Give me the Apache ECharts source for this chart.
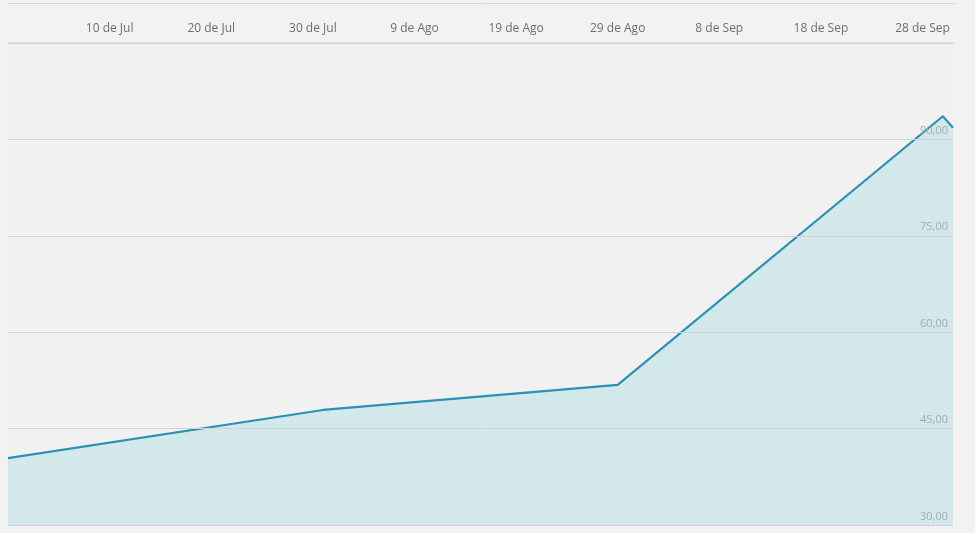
<!DOCTYPE html>
<html><head><meta charset="utf-8">
<script src="https://cdn.jsdelivr.net/npm/echarts@6/dist/echarts.min.js"></script>
<style>html,body{margin:0;padding:0;background:#f2f2f2}#c{width:975px;height:533px}</style>
</head><body><div id="c"></div>
<script>
var startDate = '2014-06-30';
var endDate = '2014-10-01';
var dates = ['2014-06-30', '2014-07-31', '2014-08-29', '2014-09-30', '2014-10-01'];
var values = [40.4, 47.9, 51.8, 93.6, 91.8];
var monthNames = ['Ene','Feb','Mar','Abr','May','Jun','Jul','Ago','Sep','Oct','Nov','Dic'];

function dayOf(s){var p=s.split('-');return Date.UTC(+p[0],+p[1]-1,+p[2])/86400000;}
var d0 = dayOf(startDate);
var seriesData = dates.map(function(d,i){return [dayOf(d)-d0, values[i]];});

var chart = echarts.init(document.getElementById('c'));
chart.setOption({
  backgroundColor:'#f2f2f2',
  animation:false,
  textStyle:{fontFamily:'Open Sans'},
  grid:{left:8,right:22,top:43,bottom:8,show:true,backgroundColor:'#f1f1f1',borderWidth:0},
  graphic:[{type:'line',shape:{x1:8,y1:3.5,x2:955,y2:3.5},style:{stroke:'#d8d8d8',lineWidth:1}}],
  xAxis:{
    type:'value',position:'top',min:0,max:dayOf(endDate)-d0,interval:10,
    axisLine:{show:true,lineStyle:{color:'#e2e2e2',width:2}},
    axisTick:{show:false},splitLine:{show:false},
    axisLabel:{showMinLabel:false,showMaxLabel:false,color:'#6e6e6e',fontSize:12,margin:8,
      formatter:function(v){var d=new Date((d0+v)*86400000);return d.getUTCDate()+' de '+monthNames[d.getUTCMonth()];}}
  },
  yAxis:{
    type:'value',position:'right',min:30,max:105,interval:15,z:10,
    axisLine:{show:false},axisTick:{show:false},
    splitLine:{lineStyle:{color:'#d3d3d3',width:1}},
    axisLabel:{inside:true,showMaxLabel:false,color:'#a3abb0',fontSize:11,margin:5,verticalAlign:'bottom',padding:[0,0,3,0],
      formatter:function(v){return v.toFixed(2).replace('.',',');}}
  },
  series:[{
    type:'line',data:seriesData,symbol:'none',z:2,
    lineStyle:{color:'#2a91b7',width:2.2},
    areaStyle:{color:'#d3e8eb',opacity:1,origin:'start'}
  }]
});
</script></body></html>
